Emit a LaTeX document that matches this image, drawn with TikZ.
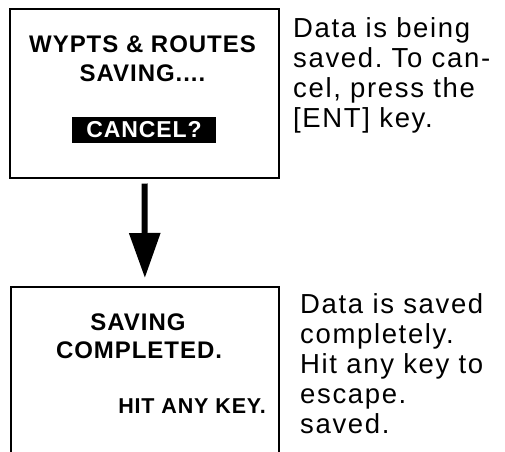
\documentclass[tikz,border=0pt]{standalone}
\usepackage{fontspec}
\setmainfont{Liberation Sans}
\newfontfamily\lcdfont[LetterSpace=4]{Liberation Sans}
\newfontfamily\notefont[LetterSpace=6]{Liberation Sans}
\usetikzlibrary{arrows.meta}
\frenchspacing
\begin{document}
\begin{tikzpicture}[x=1pt,y=-1pt,
  screen/.style={draw=black, line width=1.8pt, inner sep=0pt, anchor=north west},
  lcd/.style={font=\lcdfont\bfseries\fontsize{24}{26}\selectfont, inner sep=0pt, anchor=base},
  lcdsmall/.style={lcd, font=\lcdfont\bfseries\fontsize{23}{26}\selectfont},
  note/.style={font=\notefont\fontsize{27.5}{30}\selectfont, inner sep=0pt, anchor=base west}]
\clip (0,0) rectangle (505,451);
\fill[white] (0,0) rectangle (505,451);
% screens
\node[screen, minimum width=269.3pt, minimum height=168.7pt] (top) at (9,8) {};
\node[screen, minimum width=268pt, minimum height=220pt] (bot) at (10,285.7) {};
% arrow
\draw[line width=6pt, shorten <=5pt, shorten >=7.7pt,
  -{Triangle[width=30pt,length=45pt]}] (top.south) -- (bot.north);
% top screen text
\node[lcd] (l1) at (142.5,52) {WYPTS \& ROUTES};
\node[lcd] (l2) at (142.5,81) {SAVING....};
\node[lcdsmall, anchor=center, fill=black, text=white, minimum width=144pt, minimum height=26pt] (cancel) at (144,130) {CANCEL?};
% bottom screen text
\node[lcd] (b1) at (138,330) {SAVING};
\node[lcd] (b2) at (139,358) {COMPLETED.};
\node[lcd, anchor=base east, font=\lcdfont\bfseries\fontsize{21.5}{24}\selectfont] (b3) at (266,413) {HIT ANY KEY.};
% notes
\node[note] (n1) at (293,37) {Data is being};
\node[note] (n2) at (293,67) {saved. To can-};
\node[note] (n3) at (293,97) {cel, press the};
\node[note] (n4) at (293,127) {[ENT] key.};
\node[note] (m1) at (300,313) {Data is saved};
\node[note] (m2) at (300,343) {completely.};
\node[note] (m3) at (300,373) {Hit any key to};
\node[note] (m4) at (300,403) {escape.};
\node[note] (m5) at (300,433) {saved.};
\end{tikzpicture}
\end{document}
